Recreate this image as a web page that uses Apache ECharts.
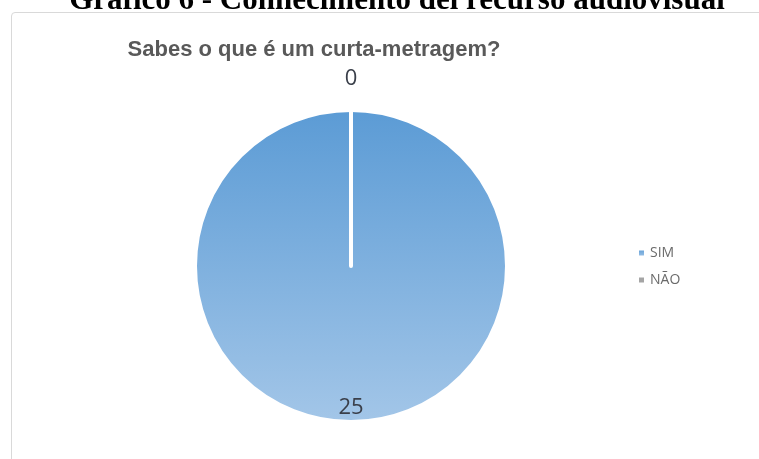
<!DOCTYPE html>
<html>
<head>
<meta charset="utf-8">
<script src="https://cdn.jsdelivr.net/npm/echarts@6/dist/echarts.min.js"></script>
<style>
html,body{margin:0;padding:0;background:#fff;overflow:hidden;}
#frame{position:absolute;left:11px;top:12px;width:800px;height:500px;border:1.5px solid #d9d9d9;border-radius:4px;box-sizing:border-box;}
#chart{position:absolute;left:0;top:0;width:759px;height:459px;}
</style>
</head>
<body>
<div id="frame"></div>
<div id="chart"></div>
<script>
var heading = 'Gráfico 6 - Conhecimento del recurso audiovisual';
var chartTitle = 'Sabes o que é um curta-metragem?';
var categories = ['SIM', 'NÃO'];
var values = [25, 0];

var chart = echarts.init(document.getElementById('chart'));
var colors = [
  new echarts.graphic.LinearGradient(0, 0, 0, 1, [
    {offset: 0, color: '#5b9bd5'},
    {offset: 1, color: '#a3c6e8'}
  ]),
  '#a5a5a5'
];
chart.setOption({
  animation: false,
  title: [
    {text: heading, left: 392, textAlign: 'center', top: -20,
     textStyle: {fontFamily: 'Liberation Serif', fontWeight: 'bold', fontSize: 31, color: '#000'}},
    {text: chartTitle, left: 309, textAlign: 'center', top: 34,
     textStyle: {fontFamily: 'Liberation Sans', fontWeight: 'bold', fontSize: 22, color: '#595959'}}
  ],
  legend: {
    orient: 'vertical', left: 632, top: 241,
    itemWidth: 7, itemHeight: 7, itemGap: 13, icon: 'rect',
    textStyle: {fontFamily: 'Open Sans', fontSize: 14, color: '#6a6a6a'},
    data: categories
  },
  series: [{
    type: 'pie',
    center: [351, 266],
    radius: [0, 156],
    startAngle: 90,
    clockwise: true,
    avoidLabelOverlap: false,
    itemStyle: {borderColor: '#fff', borderWidth: 4},
    label: {show: true, position: 'inside', formatter: '{c}',
      fontFamily: 'Open Sans', fontSize: 22, color: '#3a3f4a'},
    labelLine: {show: false},
    labelLayout: function (p) {
      return p.dataIndex === 0 ? {dy: 61} : {dy: -106};
    },
    emphasis: {disabled: true},
    data: categories.map(function (c, i) {
      return {name: c, value: values[i], itemStyle: {color: colors[i]}};
    })
  }]
});
</script>
</body>
</html>
